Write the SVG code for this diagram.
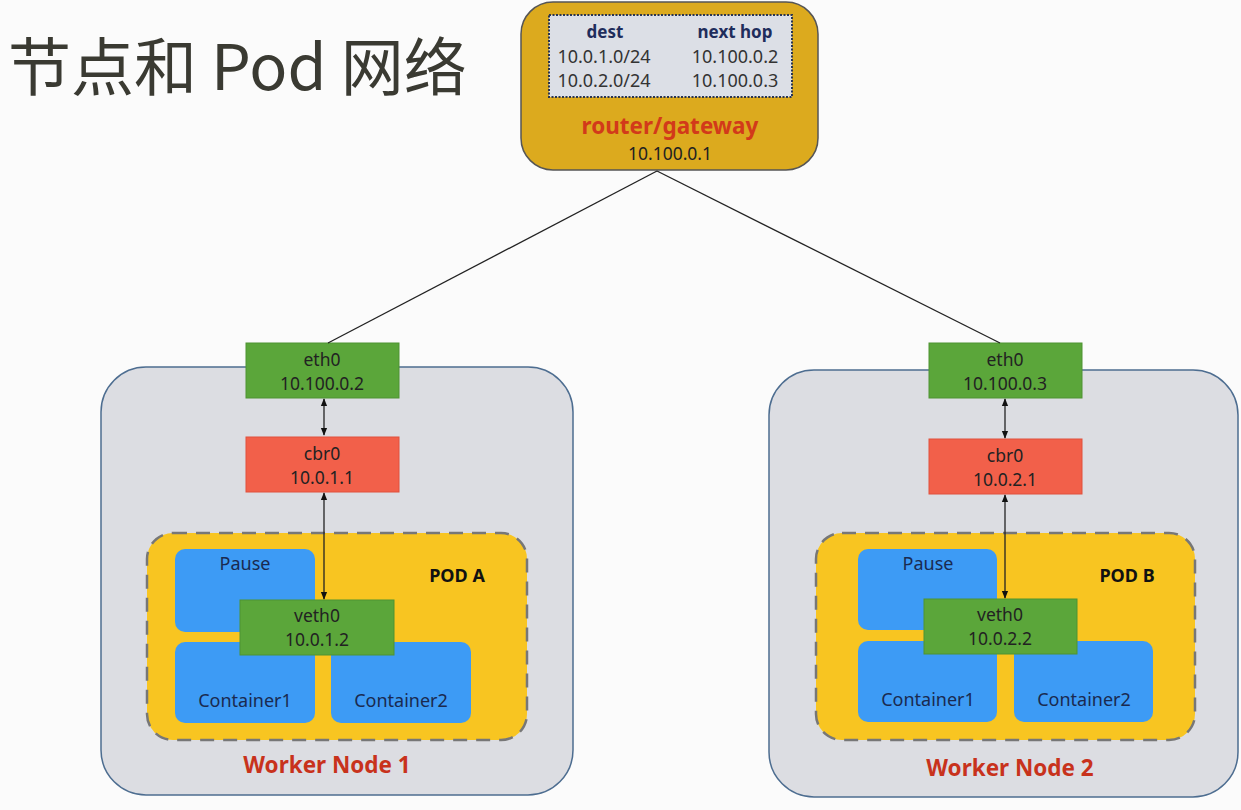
<svg xmlns="http://www.w3.org/2000/svg" width="1241" height="810" viewBox="0 0 1241 810">
<defs>
<marker id="ah" viewBox="0 0 10 10" refX="9" refY="5" markerWidth="8" markerHeight="8" orient="auto-start-reverse" markerUnits="userSpaceOnUse">
<path d="M0,1 L10,5 L0,9 Z" fill="#111"/>
</marker>
<style>
text{font-family:"Noto Sans","Open Sans","Liberation Sans",sans-serif;text-anchor:middle}
.t{font-size:17.5px;fill:#222}
.tt{font-size:18px;fill:#333}
.nav{font-size:17px;font-weight:bold;fill:#1f2d5c}
.worker{fill:#dcdde2;stroke:#4d6d90;stroke-width:1.5}
.wl{font-size:22.5px;font-weight:bold;fill:#c8321c}
.green{fill:#5ba63a;stroke:#4f9332;stroke-width:1}
.red{fill:#f2604a;stroke:#e0513d;stroke-width:1}
.pod{fill:#f8c521;stroke:#777;stroke-width:2.5;stroke-dasharray:14,9}
.blue{fill:#3d9bf5}
.bt{font-size:18px;fill:#1a2a50}
.pl{font-size:18px;font-weight:bold;fill:#111}
.conn{stroke:#222;stroke-width:1.3;fill:none}
</style>
</defs>
<rect width="1241" height="810" fill="#fbfbfb"/>
<text x="8" y="90" style="font-family:'Noto Sans CJK SC','Noto Sans',sans-serif;font-size:63px;fill:#3a3a32;text-anchor:start">节点和 Pod 网络</text>

<g id="router">
<rect x="521" y="2" width="297" height="168" rx="32" fill="#dcaa1e" stroke="#555" stroke-width="1.5"/>
<rect x="549" y="15" width="243" height="82" fill="#dcdfe6" stroke="#2a3550" stroke-width="2" stroke-dasharray="2,1.5"/>
<text x="605" y="38" class="nav">dest</text>
<text x="735" y="38" class="nav">next hop</text>
<text x="604" y="63" class="tt">10.0.1.0/24</text>
<text x="735" y="63" class="tt">10.100.0.2</text>
<text x="604" y="87" class="tt">10.0.2.0/24</text>
<text x="735" y="87" class="tt">10.100.0.3</text>
<text x="670" y="134" style="font-size:22.5px;font-weight:bold;fill:#d23a1a">router/gateway</text>
<text x="670" y="160" class="t">10.100.0.1</text>
</g>

<g id="worker1">
<rect x="101" y="367" width="472" height="428" rx="45" class="worker"/>
<text x="327" y="773" class="wl">Worker Node 1</text>
</g>
<g id="worker2">
<rect x="769" y="370" width="469" height="427" rx="45" class="worker"/>
<text x="1010" y="776" class="wl">Worker Node 2</text>
</g>

<g id="podA">
<rect x="147" y="533" width="380" height="207" rx="26" class="pod"/>
<text x="457" y="582" class="pl">POD A</text>
</g>
<g id="pauseA"><rect x="175" y="549" width="140" height="83" rx="10" class="blue"/><text x="245" y="570" class="bt">Pause</text></g>
<g id="c1A"><rect x="175" y="642" width="140" height="81" rx="10" class="blue"/><text x="245" y="707" class="bt">Container1</text></g>
<g id="c2A"><rect x="331" y="642" width="140" height="81" rx="10" class="blue"/><text x="401" y="707" class="bt">Container2</text></g>
<g id="vethA"><rect x="240" y="600" width="154" height="55" class="green"/><text x="317" y="622" class="t">veth0</text><text x="317" y="646" class="t">10.0.1.2</text></g>
<g id="eth0A"><rect x="246" y="343" width="153" height="55" class="green"/><text x="322" y="366" class="t">eth0</text><text x="322" y="390" class="t">10.100.0.2</text></g>
<g id="cbr0A"><rect x="246" y="437" width="153" height="55" class="red"/><text x="322" y="460" class="t">cbr0</text><text x="322" y="484" class="t">10.0.1.1</text></g>

<g id="podB">
<rect x="816" y="533" width="379" height="207" rx="26" class="pod"/>
<text x="1127" y="582" class="pl">POD B</text>
</g>
<g id="pauseB"><rect x="858" y="549" width="139" height="81" rx="10" class="blue"/><text x="928" y="570" class="bt">Pause</text></g>
<g id="c1B"><rect x="858" y="641" width="139" height="81" rx="10" class="blue"/><text x="928" y="706" class="bt">Container1</text></g>
<g id="c2B"><rect x="1014" y="641" width="139" height="81" rx="10" class="blue"/><text x="1084" y="706" class="bt">Container2</text></g>
<g id="vethB"><rect x="924" y="599" width="153" height="55" class="green"/><text x="1000" y="621" class="t">veth0</text><text x="1000" y="645" class="t">10.0.2.2</text></g>
<g id="eth0B"><rect x="929" y="343" width="153" height="55" class="green"/><text x="1005" y="366" class="t">eth0</text><text x="1005" y="390" class="t">10.100.0.3</text></g>
<g id="cbr0B"><rect x="929" y="439" width="153" height="55" class="red"/><text x="1005" y="462" class="t">cbr0</text><text x="1005" y="486" class="t">10.0.2.1</text></g>

<g id="connectors">
<line x1="657" y1="171" x2="328" y2="343" class="conn"/>
<line x1="657" y1="171" x2="1000" y2="343" class="conn"/>
<line x1="324" y1="399" x2="324" y2="435" class="conn" marker-start="url(#ah)" marker-end="url(#ah)"/>
<line x1="324" y1="493" x2="324" y2="599" class="conn" marker-start="url(#ah)" marker-end="url(#ah)"/>
<line x1="1005" y1="399" x2="1005" y2="438" class="conn" marker-start="url(#ah)" marker-end="url(#ah)"/>
<line x1="1005" y1="495" x2="1005" y2="598" class="conn" marker-start="url(#ah)" marker-end="url(#ah)"/>
</g>
</svg>
